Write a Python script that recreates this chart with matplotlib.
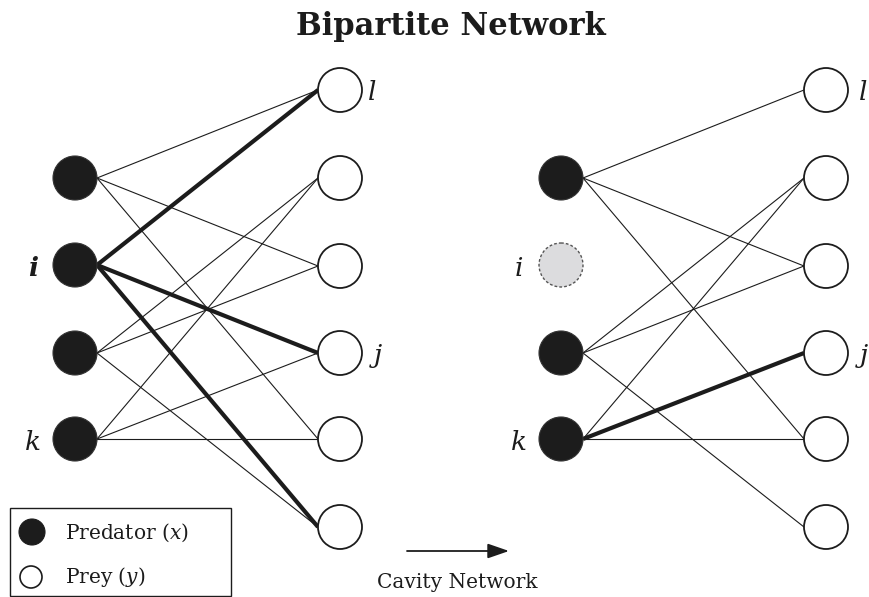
import matplotlib
matplotlib.use('Agg')
import matplotlib.pyplot as plt
from matplotlib.patches import Circle, Rectangle

plt.rcParams['font.family'] = ['DejaVu Serif']
plt.rcParams['mathtext.fontset'] = 'dejavuserif'

# node rows (predators on the left column, prey on the right column)
pred_y = [178, 265, 353, 439]
prey_y = [90, 178, 266, 353, 439, 527]
pred_labels = {1: 'i', 3: 'k'}
prey_labels = {0: 'l', 3: 'j'}

# (predator, prey) links
edges_before = [(0, 0), (0, 2), (0, 4),
                (2, 1), (2, 2), (2, 5),
                (3, 1), (3, 3), (3, 4)]
strong_before = [(1, 0), (1, 3), (1, 5)]
edges_after = [(0, 0), (0, 2), (0, 4),
               (2, 1), (2, 2), (2, 5),
               (3, 1), (3, 4)]
strong_after = [(3, 3)]
removed = 1

R = 22
DARK = '#1c1c1c'

fig = plt.figure(figsize=(8.7, 5.97), dpi=100)
ax = fig.add_axes([0, 0, 1, 1])
ax.set_xlim(0, 870)
ax.set_ylim(597, 0)
ax.axis('off')


def draw_net(xp, xq, thin, thick, gone=None, bold_i=True, l_off=32):
    for a, b in thin:
        ax.plot([xp + R, xq - R], [pred_y[a], prey_y[b]], color=DARK,
                lw=0.8, zorder=1)
    for a, b in thick:
        ax.plot([xp + R, xq - R], [pred_y[a], prey_y[b]], color=DARK,
                lw=3.0, zorder=2, solid_capstyle='butt')
    for n, y in enumerate(pred_y):
        if n == gone:
            ax.add_patch(Circle((xp, y), R, fc='#dcdcde', ec='#555555',
                                lw=1.0, ls=(0, (2, 1.5)), zorder=3))
        else:
            ax.add_patch(Circle((xp, y), R, fc=DARK, ec='#333333',
                                lw=0.8, zorder=3))
    for n, y in enumerate(prey_y):
        ax.add_patch(Circle((xq, y), R, fc='white', ec=DARK,
                            lw=1.3, zorder=3))
    for n, s in pred_labels.items():
        w = 'bold' if (bold_i and s == 'i') else 'normal'
        ax.text(xp - 42, pred_y[n] + 3, s, fontsize=19, style='italic',
                weight=w, ha='center', va='center', color=DARK)
    for n, s in prey_labels.items():
        off = l_off if s == 'l' else 38
        ax.text(xq + off, prey_y[n] + 3, s, fontsize=19,
                style='italic', ha='center', va='center', color=DARK)


draw_net(75, 340, edges_before, strong_before)
draw_net(561, 826, edges_after, strong_after, gone=removed, bold_i=False,
         l_off=37)

ax.text(451, 27, 'Bipartite Network', fontsize=22, weight='bold',
        ha='center', va='center', color=DARK)

# legend box
ax.add_patch(Rectangle((10, 508), 221, 88, fc='white', ec=DARK, lw=1.0,
                       zorder=4))
ax.add_patch(Circle((32, 532), 13, fc=DARK, ec=DARK, lw=0.8, zorder=5))
ax.add_patch(Circle((31, 577), 11, fc='white', ec=DARK, lw=1.2, zorder=5))
ax.text(65, 533, 'Predator ($\\mathit{x}$)', fontsize=14.5, ha='left',
        va='center', color=DARK, zorder=5)
ax.text(65, 577, 'Prey ($\\mathit{y}$)', fontsize=14.5, ha='left',
        va='center', color=DARK, zorder=5)

# arrow to the cavity network
ax.annotate('', xy=(509, 551), xytext=(407, 551),
            arrowprops=dict(arrowstyle='-|>,head_length=1.3,head_width=0.45',
                            color=DARK, lw=1.3, shrinkA=0, shrinkB=0))
ax.text(457, 582, 'Cavity Network', fontsize=14.5, ha='center', va='center',
        color=DARK)

fig.savefig('out.png', dpi=100)
